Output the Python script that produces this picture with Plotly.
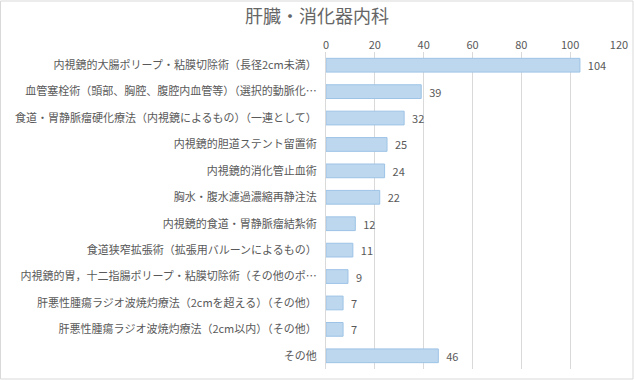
import plotly.graph_objects as go

categories = [
    "内視鏡的大腸ポリープ・粘膜切除術（長径2cm未満）",
    "血管塞栓術（頭部、胸腔、腹腔内血管等）（選択的動脈化…",
    "食道・胃静脈瘤硬化療法（内視鏡によるもの）（一連として）",
    "内視鏡的胆道ステント留置術",
    "内視鏡的消化管止血術",
    "胸水・腹水濾過濃縮再静注法",
    "内視鏡的食道・胃静脈瘤結紮術",
    "食道狭窄拡張術（拡張用バルーンによるもの）",
    "内視鏡的胃，十二指腸ポリープ・粘膜切除術（その他のポ…",
    "肝悪性腫瘍ラジオ波焼灼療法（2cmを超える）（その他）",
    "肝悪性腫瘍ラジオ波焼灼療法（2cm以内）（その他）",
    "その他",
]
values = [104, 39, 32, 25, 24, 22, 12, 11, 9, 7, 7, 46]
tick_vals = [0, 20, 40, 60, 80, 100, 120]

font_family = "Noto Sans CJK JP, Noto Sans, sans-serif"
gray = "#595959"

fig = go.Figure(
    go.Bar(
        y=categories,
        x=values,
        orientation="h",
        width=0.52,
        marker=dict(color="#BDD7EE", line=dict(color="#9DC3E6", width=1)),
        text=["  " + str(v) for v in values],
        textposition="outside",
        constraintext="none",
        textfont=dict(color=gray, size=11, family=font_family),
        cliponaxis=False,
    )
)

fig.update_layout(
    width=634,
    height=380,
    paper_bgcolor="white",
    plot_bgcolor="white",
    margin=dict(l=326, r=15, t=52, b=11),
    title=dict(
        text="肝臓・消化器内科",
        x=0.5,
        xanchor="center",
        y=0.955,
        yanchor="middle",
        font=dict(size=18, color="#666666", family=font_family),
    ),
    font=dict(family=font_family, color=gray, size=11),
    showlegend=False,
    shapes=[
        dict(type="rect", xref="paper", yref="paper", x0=-325.5/293, x1=1 + 14/293,
             y0=-10/317, y1=1 + 51/317, line=dict(color="#D9D9D9", width=1)),
    ],
)

fig.update_xaxes(
    side="top",
    range=[0, 120],
    tickvals=tick_vals,
    showgrid=True,
    gridcolor="#D9D9D9",
    gridwidth=1,
    zeroline=False,
    showline=False,
    automargin=False,
    tickfont=dict(size=11, color=gray, family=font_family),
    ticks="",
)
fig.update_yaxes(
    autorange="reversed",
    showline=True,
    linecolor="#D9D9D9",
    linewidth=1,
    ticks="",
    automargin=False,
    ticklabelstandoff=6,
    tickfont=dict(size=11, color=gray, family=font_family),
)

fig.write_html("out.html", config={"displayModeBar": False},
               post_script="document.body.style.margin='0';")
